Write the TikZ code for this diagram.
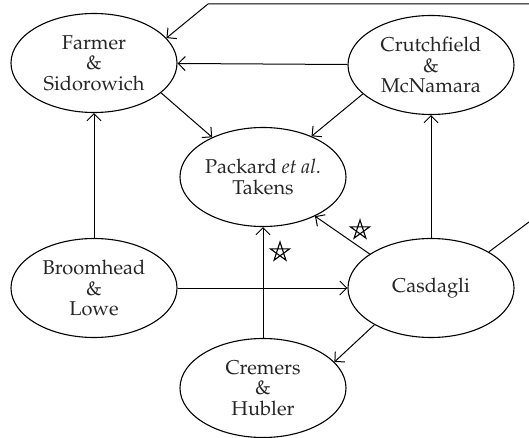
\documentclass[tikz,border=0pt]{standalone}
\usepackage[T1]{fontenc}
\usepackage{mathpazo}
\usetikzlibrary{shapes.geometric,arrows.meta}
\begin{document}
\begin{tikzpicture}[x=0.5pt,y=-0.5pt,
  every node/.style={font=\fontsize{10}{10.3}\selectfont, text=black!85},
  author/.style={ellipse,draw,line width=0.55pt,minimum width=83pt,minimum height=49.5pt,inner sep=0pt,align=center},
  link/.style={line width=0.5pt,-{Straight Barb[length=3.5pt,width=7pt]}},
  starmark/.style={line width=0.55pt,line join=miter}]
\useasboundingbox (0,0) rectangle (529,438);
\node[author] (F)  at (94,63)   {Farmer\\\&\\Sidorowich};
\node[author] (C)  at (431,65)  {Crutchfield\\\&\\McNamara};
\node[author] (P)  at (263,177) {Packard \emph{et al}.\\Takens};
\node[author] (B)  at (94,288)  {Broomhead\\\&\\Lowe};
\node[author] (Ca) at (431,288) {Casdagli};
\node[author] (Cr) at (263,388) {Cremers\\\&\\Hubler};
\coordinate (r1) at (568,193);
\coordinate (r2) at (568,4);
\coordinate (t1) at (208,4);
\draw[link] (C) -- (F);
\draw[link] (F.-24) -- (P.142);
\draw[link] (C.203) -- (P.40);
\draw[link] (B) -- (F);
\draw[link] (B) -- (Ca);
\draw[link] (Ca) -- (C);
\draw[link] (Ca.151) -- (P.-37);
\draw[link] (Cr) -- (P);
\draw[link] (Ca.213) -- (Cr.20);
\draw[link] (Ca.32) -- (r1) -- (r2) -- (t1) -- (F.19);
\draw[starmark] (360,230) +(90:5pt) -- +(234:5pt) -- +(18:5pt) -- +(162:5pt) -- +(306:5pt) -- cycle;
\draw[starmark] (280,252) +(90:5pt) -- +(234:5pt) -- +(18:5pt) -- +(162:5pt) -- +(306:5pt) -- cycle;
\end{tikzpicture}
\end{document}
